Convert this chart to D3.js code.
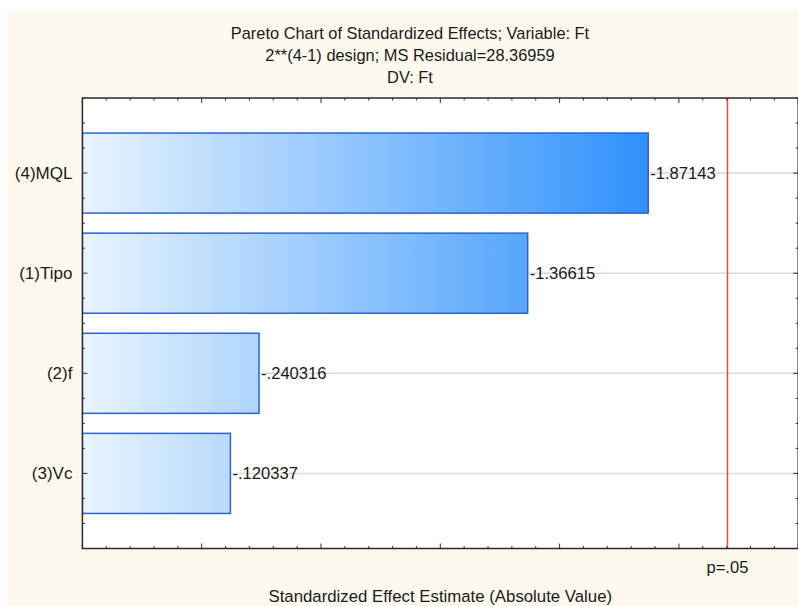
<!DOCTYPE html>
<html><head><meta charset="utf-8">
<script src="https://cdn.jsdelivr.net/npm/d3@7"></script>
<style>
html,body{margin:0;padding:0;background:#fff;}
text{font-family:"Liberation Sans",Arial,sans-serif;fill:#1a1a1a;}
</style></head>
<body><svg id="c" width="798" height="606"></svg>
<script>
const categories = ["(4)MQL", "(1)Tipo", "(2)f", "(3)Vc"];
const effects = [-1.87143, -1.36615, -0.240316, -0.120337];
const valueLabels = ["-1.87143", "-1.36615", "-.240316", "-.120337"];
const pCritical = 2.2035;
const pLabel = "p=.05";
const titleLines = ["Pareto Chart of Standardized Effects; Variable: Ft", "2**(4-1) design; MS Residual=28.36959", "DV: Ft"];
const xTitle = "Standardized Effect Estimate (Absolute Value)";

const svg = d3.select("#c");
svg.append("rect").attr("x",7).attr("y",10).attr("width",791).attr("height",596).attr("fill","#fef9ee");

const L = 82.4, R = 798.2, T = 98, B = 548.5;
const x = d3.scaleLinear().domain([-0.5, 2.5]).range([L, R]);
const y = d3.scaleLinear().domain([0.25, 4.75]).range([T, B]);

const defs = svg.append("defs");
const grad = defs.append("linearGradient").attr("id","g").attr("gradientUnits","userSpaceOnUse")
  .attr("x1", x(-0.5)).attr("x2", x(Math.abs(effects[0]))).attr("y1",0).attr("y2",0);
grad.append("stop").attr("offset","0%").attr("stop-color","#e9f4fe");
grad.append("stop").attr("offset","100%").attr("stop-color","#2f91fb");
defs.append("clipPath").attr("id","clip").append("rect").attr("x",L).attr("y",T).attr("width",R-L).attr("height",B-T);

svg.append("rect").attr("x",L).attr("y",T).attr("width",R-L).attr("height",B-T).attr("fill","#fff");

const g = svg.append("g").attr("clip-path","url(#clip)");
g.selectAll("line.grid").data(categories).join("line")
  .attr("x1",L).attr("x2",R).attr("y1",(d,i)=>y(i+1)).attr("y2",(d,i)=>y(i+1))
  .attr("stroke","#d9d9d9").attr("stroke-width",1.5);

g.selectAll("rect.bar").data(effects).join("rect")
  .attr("x", x(-0.5)).attr("y",(d,i)=>y(i+1-0.4))
  .attr("width", d=>x(Math.abs(d))-x(-0.5)).attr("height", (d,i)=>y(i+1.4)-y(i+0.6))
  .attr("fill","url(#g)").attr("stroke","#2b63d3").attr("stroke-width",1.5);

g.append("line").attr("x1",x(pCritical)).attr("x2",x(pCritical)).attr("y1",T).attr("y2",B)
  .attr("stroke","#ef4a4a").attr("stroke-width",1.5);

svg.selectAll("text.val").data(effects).join("text")
  .attr("x",(d)=>x(Math.abs(d))+2).attr("y",(d,i)=>y(i+1)).attr("dy","0.35em")
  .attr("font-size",16.6).text((d,i)=>valueLabels[i]);

const tg = svg.append("g").attr("stroke","#333").attr("stroke-width",1);
const xMinor = d3.range(-0.5, 2.5001, 0.1);
xMinor.forEach(v=>{
  const major = Math.abs(v*2 - Math.round(v*2)) < 1e-6;
  const len = major ? 5 : 2.5;
  const px = x(v);
  tg.append("line").attr("x1",px).attr("x2",px).attr("y1",B).attr("y2",B-len);
  tg.append("line").attr("x1",px).attr("x2",px).attr("y1",T).attr("y2",T+len);
});
const yMinor = d3.range(0.25, 4.7501, 0.25);
yMinor.forEach(v=>{
  const major = Math.abs(v - Math.round(v)) < 1e-6;
  const len = major ? 5 : 2.5;
  const py = y(v);
  tg.append("line").attr("x1",L).attr("x2",L+len).attr("y1",py).attr("y2",py);
  tg.append("line").attr("x1",R).attr("x2",R-len).attr("y1",py).attr("y2",py);
});

svg.append("rect").attr("x",L).attr("y",T).attr("width",R-L).attr("height",B-T)
  .attr("fill","none").attr("stroke","#2a2a2a").attr("stroke-width",1.5);

svg.selectAll("text.cat").data(categories).join("text")
  .attr("x",L-10).attr("y",(d,i)=>y(i+1)).attr("dy","0.35em").attr("text-anchor","end")
  .attr("font-size",17).text(d=>d);

svg.selectAll("text.title").data(titleLines).join("text")
  .attr("x",410).attr("y",(d,i)=>38.5+i*22).attr("text-anchor","middle")
  .attr("font-size",16.4).text(d=>d);

svg.append("text").attr("x",x(pCritical)).attr("y",572.5).attr("text-anchor","middle")
  .attr("font-size",16.6).text(pLabel);
svg.append("text").attr("x",(L+R)/2).attr("y",601.5).attr("text-anchor","middle")
  .attr("font-size",16.8).text(xTitle);
</script></body></html>
